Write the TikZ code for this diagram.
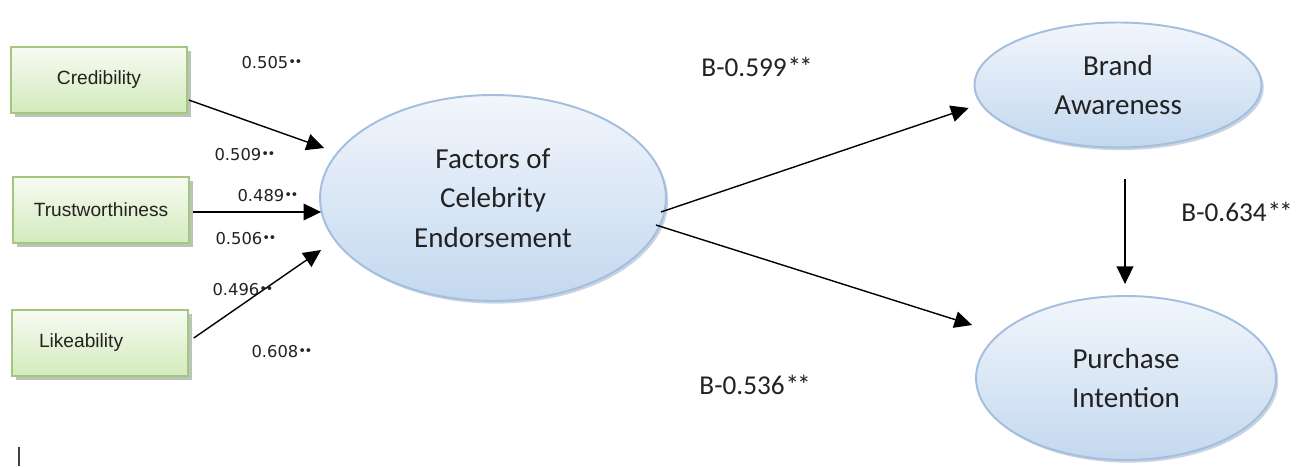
\documentclass[tikz,border=0pt]{standalone}
\usepackage{fontspec}
\setmainfont{Carlito}
\newfontfamily\arialf{Liberation Sans}
\newfontfamily\dejaf{DejaVu Sans}
\usetikzlibrary{arrows.meta,shadows,calc,shapes.geometric}
\definecolor{ellT}{HTML}{F2F6FC}
\definecolor{ellB}{HTML}{C3D8EF}
\definecolor{elldraw}{HTML}{A3BEDF}
\definecolor{boxT}{HTML}{F7FBF2}
\definecolor{boxB}{HTML}{D2EABC}
\definecolor{boxdraw}{HTML}{A4C67E}
\definecolor{txt}{HTML}{222222}
\newcommand\sigdots{\raisebox{0.3ex}{\fontsize{7.5}{7.5}\selectfont\char"2022\kern-0.8pt\char"2022}}
\newcommand\twostars{\kern0.5pt*\kern-1.2pt*}
\begin{document}
\begin{tikzpicture}[x=0.02cm,y=-0.02cm,
  latent/.style={ellipse, draw=elldraw, line width=1.1pt, top color=ellT, bottom color=ellB,
    drop shadow={shadow xshift=1.3pt, shadow yshift=-1.5pt, opacity=0.45, fill=elldraw!85!black},
    align=center, font=\fontsize{16.5}{22.5}\selectfont, text=txt, inner sep=0pt},
  obs/.style={rectangle, draw=boxdraw, line width=0.9pt, top color=boxT, bottom color=boxB,
    minimum width=3.52cm, minimum height=1.32cm,
    drop shadow={shadow xshift=2pt, shadow yshift=-2pt, opacity=0.5, fill=gray!90!green},
    font=\arialf\fontsize{10.9}{12}\selectfont, text=txt},
  coef/.style={font=\dejaf\fontsize{9.3}{10}\selectfont, text=txt, inner sep=0pt},
  bcoef/.style={font=\fontsize{15.5}{18}\selectfont, text=txt, inner sep=0pt},
  arr/.style={-{Triangle[length=10pt,width=9.5pt]}, line width=0.8pt, black}]
\useasboundingbox (0,0) rectangle (1300,466);
\fill[white] (0,0) rectangle (1300,466);

% observed variables
\node[obs] (cred) at (99,80) {Credibility};
\node[obs] (trust) at (101,210) {Trustworthiness};
\node[obs, text width=2.44cm, inner xsep=0.54cm, align=left] (lik) at (100,343) {Likeability};

% latent variables
\node[latent, minimum width=6.92cm, minimum height=4.12cm] (main) at (493,198) {Factors of\\Celebrity\\Endorsement};
\node[latent, minimum width=5.74cm, minimum height=2.5cm] (brand) at (1118,85) {Brand\\Awareness};
\node[latent, minimum width=6.0cm, minimum height=3.28cm] (purch) at (1126,378) {Purchase\\Intention};

% connectors
\draw[arr] ($(cred.east)+(1,20)$) -- ($(main.west)+(5,-50)$);
\draw[arr] ($(trust.east)+(3,2)$) -- ($(main.west)+(2,14)$);
\draw[arr] ($(lik.east)+(5,-5)$) -- ($(main.west)+(2,52)$);
\draw[arr] ($(main.east)+(-6,14)$) -- ($(brand.west)+(-5,23)$);
\draw[arr] ($(main.east)+(-11,27)$) -- ($(purch.west)+(-3,-53)$);
\draw[arr] ($(brand.south)+(7,31)$) -- ($(purch.north)+(-1,-11)$);

% coefficients
\node[coef] (c1) at (272,63) {0.505\sigdots};
\node[coef] (c2) at (245,155) {0.509\sigdots};
\node[coef] (c3) at (268,196) {0.489\sigdots};
\node[coef] (c4) at (246,239) {0.506\sigdots};
\node[coef] (c5) at (243,290) {0.496\sigdots};
\node[coef] (c6) at (282,352) {0.608\sigdots};
\node[bcoef] (b1) at (757,67) {B-0.599\twostars};
\node[bcoef] (b2) at (1237,212) {B-0.634\twostars};
\node[bcoef] (b3) at (755,385) {B-0.536\twostars};

% stray mark
\draw[black!75, line width=0.7pt] (19,447) -- (19,466);
\end{tikzpicture}
\end{document}
